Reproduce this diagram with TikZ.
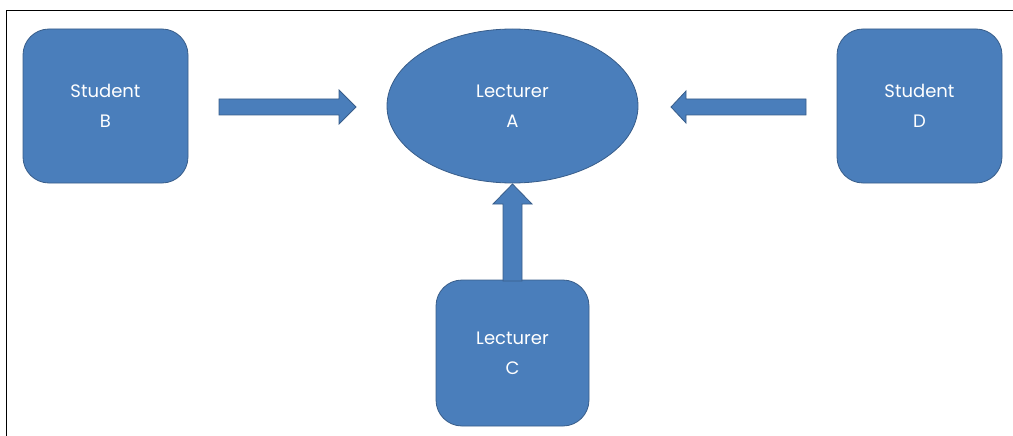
\documentclass[tikz,border=0pt]{standalone}
\usepackage{fontspec}
\setmainfont{Poppins}
\usetikzlibrary{shapes.geometric}
\begin{document}
\begin{tikzpicture}[x=1pt,y=-1pt,
  shapefill/.style={fill={rgb,255:red,74;green,126;blue,187}, draw={rgb,255:red,56;green,93;blue,138}, line width=0.8pt},
  roundbox/.style={shapefill, rounded corners=26pt, minimum width=165pt, minimum height=154pt, inner sep=0pt},
  oval/.style={shapefill, ellipse, minimum width=251pt, minimum height=154pt, inner sep=0pt},
  txt/.style={text=white, font=\fontsize{18}{30}\selectfont, align=center},
  blockarrow/.style={shapefill, line join=miter}
]
\useasboundingbox (0,0) rectangle (1013,436);
% frame lines
\draw[line width=0.9pt] (6,436) -- (6,10) -- (1013,10);

% boxes
\node[roundbox, txt] (B) at (105.5,106) {Student\\B};
\node[roundbox, txt] (D) at (919.5,106) {Student\\D};
\node[roundbox, txt, minimum width=153pt, minimum height=146pt] (C) at (512.5,353) {Lecturer\\C};
\node[oval, txt] (A) at (512.5,106) {Lecturer\\A};

% block arrows
\draw[blockarrow] (219,99) -- (339,99) -- (339,90) -- (356,107) -- (339,124) -- (339,115) -- (219,115) -- cycle;
\draw[blockarrow] (806,99) -- (686,99) -- (686,91) -- (671,107) -- (686,123) -- (686,115) -- (806,115) -- cycle;
\draw[blockarrow] (503,281) -- (503,204) -- (493,204) -- (512.5,184) -- (532,204) -- (522,204) -- (522,281) -- cycle;
\end{tikzpicture}
\end{document}
